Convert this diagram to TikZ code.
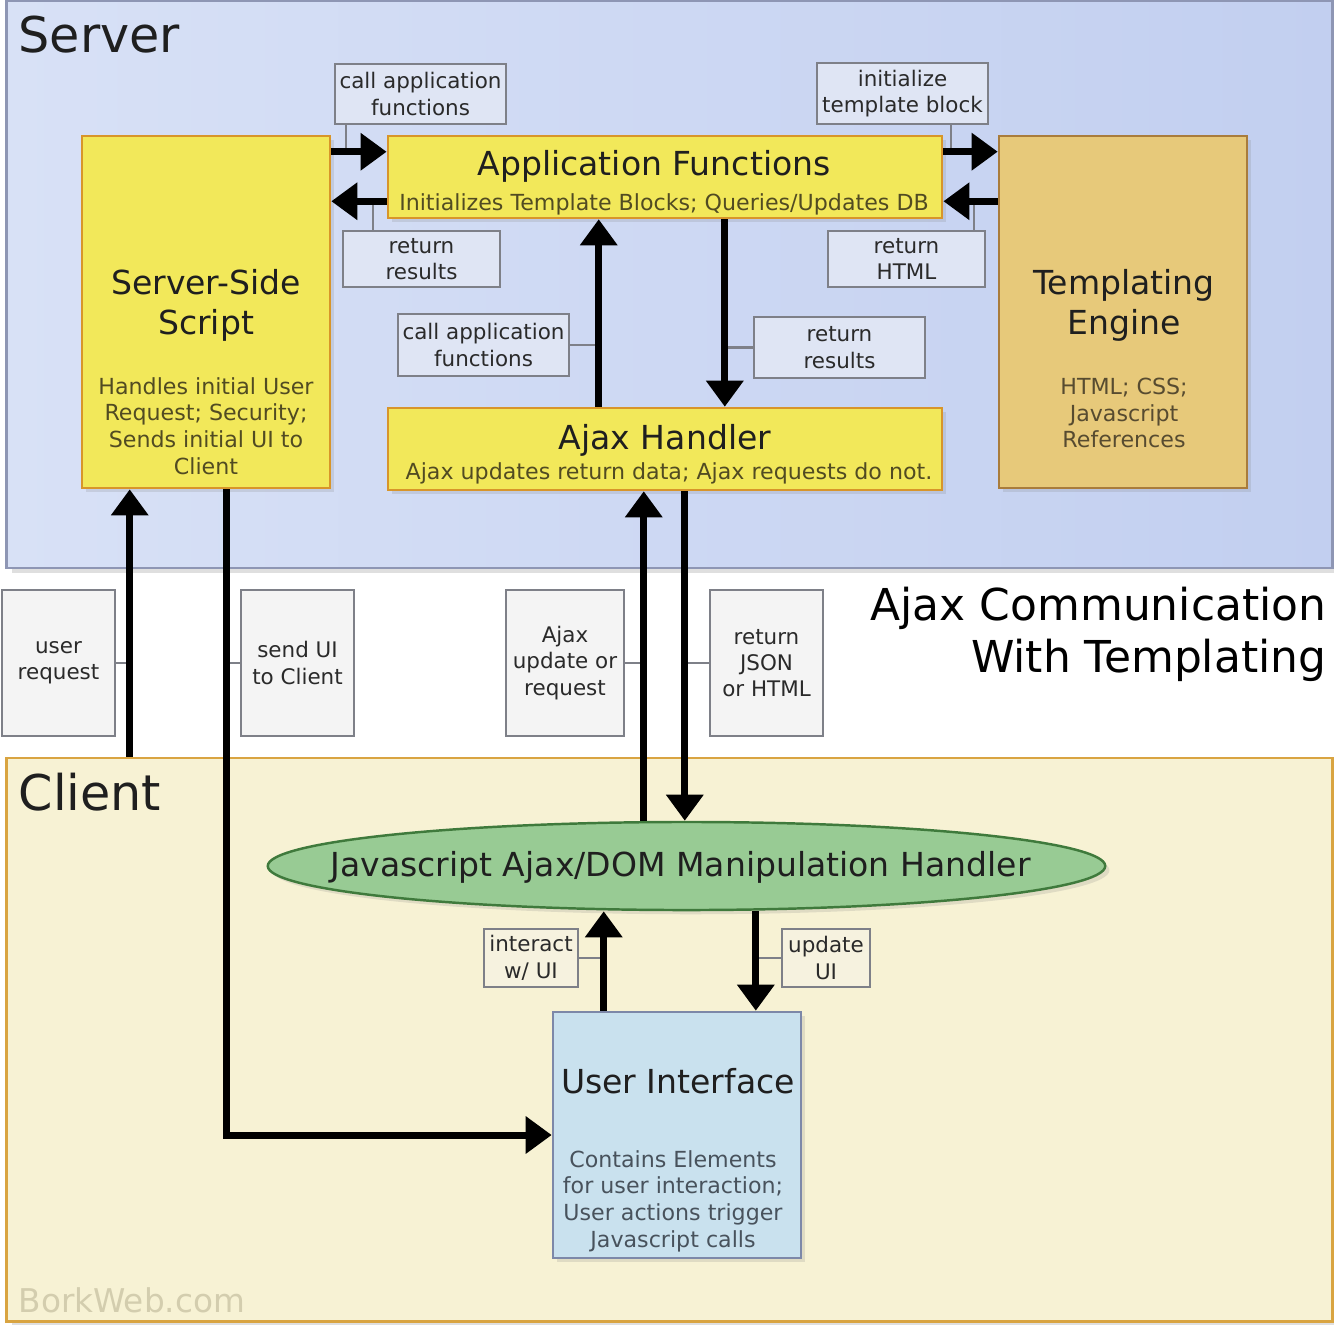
\documentclass[tikz,border=0pt]{standalone}
\usepackage{fontspec}
\setmainfont{DejaVu Sans}
\usepackage{tikz}
\usetikzlibrary{positioning, shapes.geometric, arrows.meta, shadows}

\definecolor{serverleft}{HTML}{D8E1F6}
\definecolor{serverright}{HTML}{C2CFF0}
\definecolor{serveredge}{HTML}{8E96B4}
\definecolor{clientfill}{HTML}{F7F2D4}
\definecolor{clientedge}{HTML}{D9A441}
\definecolor{yellowfill}{HTML}{F2E85A}
\definecolor{yellowedge}{HTML}{D8952A}
\definecolor{yellowtext}{HTML}{514B22}
\definecolor{tmplfill}{HTML}{E7C97A}
\definecolor{tmpledge}{HTML}{A97C3C}
\definecolor{tmpltext}{HTML}{574B30}
\definecolor{greenfill}{HTML}{98CB94}
\definecolor{greenedge}{HTML}{3F7A3C}
\definecolor{uifill}{HTML}{C9E1EE}
\definecolor{uiedge}{HTML}{7D88A8}
\definecolor{uitext}{HTML}{48525C}
\definecolor{noteserver}{HTML}{DFE5F4}
\definecolor{notewhite}{HTML}{F4F4F4}
\definecolor{noteclient}{HTML}{F6F2DF}
\definecolor{noteedge}{HTML}{7E8088}
\definecolor{notetext}{HTML}{2A2A2A}
\definecolor{brandtext}{HTML}{D3CDAE}

\newcommand{\bigtitlefont}{\fontsize{14}{16}\selectfont}
\newcommand{\boxtitlefont}{\fontsize{9.4}{11.4}\selectfont}
\newcommand{\boxsubfont}{\fontsize{6.3}{7.6}\selectfont}
\newcommand{\notefont}{\fontsize{6.1}{7.5}\selectfont}

\tikzset{
	panel/.style={draw, line width=0.75pt, inner sep=0pt,
		drop shadow={opacity=0.25, shadow xshift=1.5pt, shadow yshift=-1.5pt}},
	box/.style={draw, line width=0.7pt, inner sep=0pt,
		drop shadow={opacity=0.2, shadow xshift=1.2pt, shadow yshift=-1.2pt}},
	boxtitle/.style={font=\boxtitlefont, align=center, inner sep=0pt, text=black!88},
	boxsub/.style={font=\boxsubfont, align=center, inner sep=0pt},
	note/.style={draw=noteedge, line width=0.6pt, inner sep=0.3pt,
		font=\notefont, align=center, text=notetext},
	tie/.style={draw=noteedge, line width=0.6pt},
	flow/.style={line width=2pt, -{Triangle[length=2.6mm, width=3.6mm]}}
}

\begin{document}
\begin{tikzpicture}[x=0.01cm, y=-0.01cm]
	\useasboundingbox (0,0) rectangle (1334,1324);

	% Add the panels
	\node[panel,
		  draw=serveredge,
		  left color=serverleft,
		  right color=serverright,
		  minimum width=13.25cm,
		  minimum height=5.67cm] (server) at (669.5,284.5) {};
	\node[panel,
		  draw=clientedge,
		  fill=clientfill,
		  minimum width=13.25cm,
		  minimum height=5.63cm] (client) at (669.5,1039.5) {};

	\node[font=\bigtitlefont, inner sep=0pt, anchor=base west, text=black!88] (servertitle) at (18,52) {Server};
	\node[font=\bigtitlefont, inner sep=0pt, anchor=base west, text=black!88] (clienttitle) at (18,810) {Client};
	\node[font=\fontsize{12.5}{15}\selectfont, inner sep=0pt, anchor=base east] (caption1) at (1327,620) {Ajax Communication};
	\node[font=\fontsize{12.5}{15}\selectfont, inner sep=0pt, anchor=base east] (caption2) at (1327,672) {With Templating};
	\node[font=\fontsize{9.3}{11}\selectfont, inner sep=0pt, anchor=base west, text=brandtext] (brand) at (18,1312) {BorkWeb.com};

	% Add the blocks
	\node[box,
		  draw=yellowedge,
		  fill=yellowfill,
		  minimum width=2.48cm,
		  minimum height=3.52cm] (sss) at (206,312) {};
	\node[boxtitle] (ssstitle) at (206,305) {Server-Side\\Script};
	\node[boxsub, text=yellowtext] (ssssub) at (206,426) {Handles initial User\\Request; Security;\\Sends initial UI to\\Client};

	\node[box,
		  draw=yellowedge,
		  fill=yellowfill,
		  minimum width=5.54cm,
		  minimum height=0.82cm] (appf) at (665,177) {};
	\node[boxtitle, anchor=base] (appftitle) at (654,175) {Application Functions};
	\node[boxsub, anchor=base, text=yellowtext] (appfsub) at (664,210) {Initializes Template Blocks; Queries/Updates DB};

	\node[box,
		  draw=tmpledge,
		  fill=tmplfill,
		  minimum width=2.48cm,
		  minimum height=3.52cm] (tmpl) at (1123,312) {};
	\node[boxtitle] (tmpltitle) at (1124,305) {Templating\\Engine};
	\node[boxsub, text=tmpltext] (tmplsub) at (1124,413) {HTML; CSS;\\Javascript\\References};

	\node[box,
		  draw=yellowedge,
		  fill=yellowfill,
		  minimum width=5.54cm,
		  minimum height=0.82cm] (ajax) at (665,449) {};
	\node[boxtitle, anchor=base] (ajaxtitle) at (665,449) {Ajax Handler};
	\node[boxsub, anchor=base, text=yellowtext] (ajaxsub) at (669,479) {Ajax updates return data; Ajax requests do not.};

	\node[box,
		  ellipse,
		  draw=greenedge,
		  fill=greenfill,
		  minimum width=8.37cm,
		  minimum height=0.88cm] (jsh) at (686.5,866) {};
	\node[boxtitle, anchor=base] (jshtitle) at (680.5,876) {Javascript Ajax/DOM Manipulation Handler};

	\node[box,
		  draw=uiedge,
		  fill=uifill,
		  minimum width=2.48cm,
		  minimum height=2.46cm] (ui) at (677,1135) {};
	\node[boxtitle, anchor=base] (uititle) at (678,1093) {User Interface};
	\node[boxsub, text=uitext] (uisub) at (673,1201) {Contains Elements\\for user interaction;\\User actions trigger\\Javascript calls};

	% Add the notes
	\node[note, fill=noteserver, minimum width=1.71cm, minimum height=0.60cm] (ncalltop) at (420.5,94) {call application\\functions};
	\node[note, fill=noteserver, minimum width=1.57cm, minimum height=0.56cm] (nrettop) at (421.5,259) {return\\results};
	\node[note, fill=noteserver, minimum width=1.71cm, minimum height=0.61cm] (ninit) at (902.5,93.5) {initialize\\template block};
	\node[note, fill=noteserver, minimum width=1.57cm, minimum height=0.56cm] (nrethtml) at (906.5,259) {return\\HTML};
	\node[note, fill=noteserver, minimum width=1.71cm, minimum height=0.62cm] (ncallmid) at (483.5,345) {call application\\functions};
	\node[note, fill=noteserver, minimum width=1.71cm, minimum height=0.61cm] (nretmid) at (839.5,347.5) {return\\results};
	\node[note, fill=notewhite, minimum width=1.13cm, minimum height=1.46cm] (nuserreq) at (58.5,663) {user\\request};
	\node[note, fill=notewhite, minimum width=1.13cm, minimum height=1.46cm] (nsendui) at (297.5,663) {send UI\\to Client};
	\node[note, fill=notewhite, minimum width=1.18cm, minimum height=1.46cm] (najaxreq) at (565,663) {Ajax\\update or\\request};
	\node[note, fill=notewhite, minimum width=1.13cm, minimum height=1.46cm] (nretjson) at (766.5,663) {return\\JSON\\or HTML};
	\node[note, fill=noteclient, minimum width=0.94cm, minimum height=0.58cm] (ninteract) at (531,958) {interact\\w/ UI};
	\node[note, fill=noteclient, minimum width=0.88cm, minimum height=0.58cm] (nupdui) at (826,958) {update\\UI};

	% Points where the arrows meet the blocks
	\path ([yshift=-0.17cm]appf.north west) coordinate (callin)
		  ([yshift=0.18cm]appf.south west) coordinate (retout)
		  ([yshift=-0.17cm]tmpl.north west) coordinate (initin)
		  ([yshift=0.18cm]appf.south east) coordinate (htmlin)
		  ([xshift=2.12cm]ajax.north west) coordinate (ajaxup)
		  ([xshift=3.38cm]appf.south west) coordinate (ajaxdown)
		  ([xshift=0.49cm]sss.south west) coordinate (reqin)
		  ([xshift=1.46cm]sss.south west) coordinate (uiout)
		  ([xshift=2.57cm]ajax.south west) coordinate (jshup)
		  ([xshift=2.98cm]ajax.south west) coordinate (jshdown)
		  ([xshift=0.52cm]ui.north west) coordinate (uiup)
		  ([xshift=2.04cm]ui.north west) coordinate (uidown)
		  ([xshift=0.12cm]ncalltop.south west) coordinate (tie1)
		  ([xshift=0.31cm]nrettop.north west) coordinate (tie2)
		  ([xshift=1.35cm]ninit.south west) coordinate (tie3)
		  ([xshift=1.47cm]nrethtml.north west) coordinate (tie4);

	% Add the ties
	\draw[tie] (tie1) -- (tie1 |- callin);
	\draw[tie] (tie2) -- (tie2 |- retout);
	\draw[tie] (tie3) -- (tie3 |- initin);
	\draw[tie] (tie4) -- (tie4 |- htmlin);
	\draw[tie] (ncallmid.east) -- (ncallmid.east -| ajaxup);
	\draw[tie] (nretmid.west) -- (nretmid.west -| ajaxdown);
	\draw[tie] (nuserreq.east) -- (nuserreq.east -| reqin);
	\draw[tie] (nsendui.west) -- (nsendui.west -| uiout);
	\draw[tie] (najaxreq.east) -- (najaxreq.east -| jshup);
	\draw[tie] (nretjson.west) -- (nretjson.west -| jshdown);
	\draw[tie] (ninteract.east) -- (ninteract.east -| uiup);
	\draw[tie] (nupdui.west) -- (nupdui.west -| uidown);

	% Add the arrows
	\draw[flow] (sss.east |- callin) -- (callin);
	\draw[flow] (retout) -- (sss.east |- retout);
	\draw[flow] (appf.east |- initin) -- (initin);
	\draw[flow] (tmpl.west |- htmlin) -- (htmlin);
	\draw[flow] (ajaxup) -- (ajaxup |- appf.south);
	\draw[flow] (ajaxdown) -- (ajaxdown |- ajax.north);
	\draw[flow] (reqin |- client.north) -- (reqin);
	\draw[flow] (uiout) |- (ui.west);
	\draw[flow] (jshup |- jsh.north) -- (jshup);
	\draw[flow] (jshdown) -- (jshdown |- jsh.north);
	\draw[flow] (uiup) -- (uiup |- jsh.south);
	\draw[flow] (uidown |- jsh.south) -- (uidown);
\end{tikzpicture}
\end{document}
